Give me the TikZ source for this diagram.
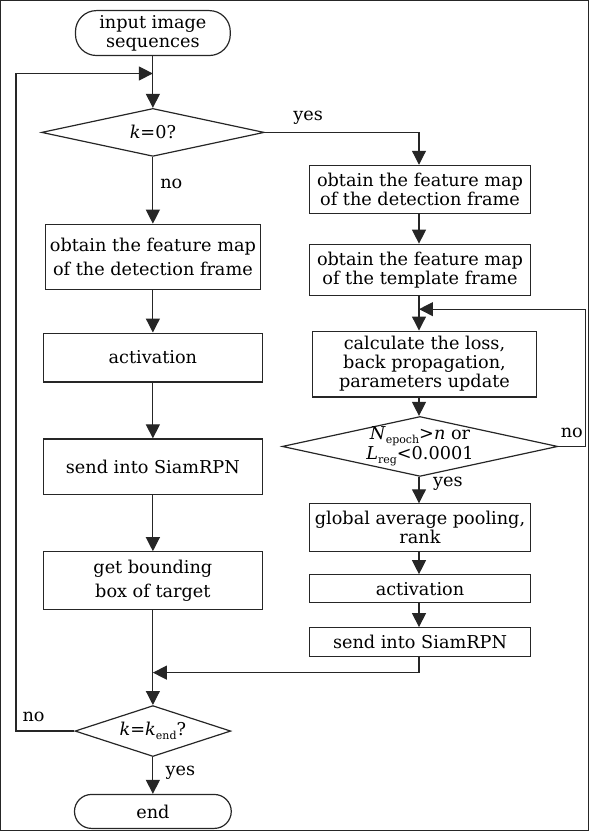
\documentclass[tikz,border=0pt]{standalone}
\usepackage{fontspec}
\setmainfont{DejaVu Serif}
\usetikzlibrary{arrows.meta,shapes.geometric}
\newcommand\lsub[1]{\raisebox{-0.4ex}{\fontsize{11}{11}\selectfont #1}}
\begin{document}
\begin{tikzpicture}[x=1pt,y=-1pt,
  font=\fontsize{17.7}{19}\selectfont,
  every path/.style={line width=1.2pt, draw=black!85},
  box/.style={draw, rectangle, align=center, inner sep=1pt, line width=1.2pt, draw=black!85},
  term/.style={draw, rectangle, rounded corners=17pt, align=center, inner sep=1pt, line width=1.2pt, draw=black!85},
  dia/.style={draw, diamond, inner sep=0pt, aspect=4.5, line width=1.2pt, draw=black!85},
  arr/.style={-{Triangle[length=14pt,width=14pt]}},
  lab/.style={inner sep=0pt}]
\useasboundingbox (0,0) rectangle (589,831);

% left column
\node[term, rounded corners=21pt, minimum width=155pt, minimum height=45pt] (start) at (152.5,32.5) {input image\\sequences};
\node[dia, minimum width=223pt, minimum height=48pt] (d1) at (152.5,132) {\textit{k}=0?};
\node[box, minimum width=215pt, minimum height=65pt, font=\fontsize{17.7}{24}\selectfont] (L1) at (152.5,256.5) {obtain the feature map\\of the detection frame};
\node[box, minimum width=219pt, minimum height=49pt] (L2) at (152.5,357.5) {activation};
\node[box, minimum width=219pt, minimum height=56pt] (L3) at (152.5,467) {send into SiamRPN};
\node[box, minimum width=219pt, minimum height=58pt, font=\fontsize{17.7}{24}\selectfont] (L4) at (152.5,581) {get bounding\\box of target};
\node[dia, minimum width=156pt, minimum height=51pt] (d3) at (152.5,731.5) {\textit{k}=\textit{k}\lsub{end}?};
\node[term, minimum width=157pt, minimum height=34pt] (end) at (152.5,812) {end};

% right column
\node[box, minimum width=221pt, minimum height=48pt] (R1) at (420,189) {obtain the feature map\\of the detection frame};
\node[box, minimum width=221pt, minimum height=51pt] (R2) at (420,269.5) {obtain the feature map\\of the template frame};
\node[box, minimum width=225pt, minimum height=66pt] (R3) at (424.5,364) {calculate the loss,\\back propagation,\\parameters update};
\node[dia, minimum width=276pt, minimum height=60pt,
  label={[align=center, inner sep=0pt, font=\fontsize{17.7}{19}\selectfont]center:{\textit{N}\lsub{epoch}>\textit{n} or\\\textit{L}\lsub{reg}<0.0001}}] (d2) at (420,446.5) {};
\node[box, minimum width=222pt, minimum height=48pt] (R4) at (420,528) {global average pooling,\\rank};
\node[box, minimum width=222pt, minimum height=28pt] (R5) at (420,589) {activation};
\node[box, minimum width=222pt, minimum height=29pt] (R6) at (420,642.5) {send into SiamRPN};

% junction coordinates
\coordinate (j1) at (152.5,73);
\coordinate (lt) at (15.5,73);
\coordinate (j2) at (152.5,673);
\coordinate (j3) at (419,309);
\coordinate (rt) at (586,309);

% connectors
\draw[arr] (start) -- (d1);
\draw[arr] (d1) -- (L1);
\draw[arr] (L1) -- (L2);
\draw[arr] (L2) -- (L3);
\draw[arr] (L3) -- (L4);
\draw[arr] (L4) -- (d3);
\draw[arr] (d3) -- (end);
\draw[arr] (d3.west) -| (lt) -- (j1);
\draw[arr] (d1.east) -| (R1.north -| j3);
\draw[arr] (R1.south -| j3) -- (R2.north -| j3);
\draw[arr] (R2.south -| j3) -- (R3.north -| j3);
\draw[arr] (R3.south -| j3) -- (d2.north -| j3);
\draw[arr] (d2.south -| j3) -- (R4.north -| j3);
\draw[arr] (R4.south -| j3) -- (R5.north -| j3);
\draw[arr] (R5.south -| j3) -- (R6.north -| j3);
\draw[arr] (R6.south -| j3) |- (j2);
\draw[arr] (d2.east) -| (rt) -- (j3);

% labels
\node[lab] (yes1) at (308,117) {yes};
\node[lab] (no1) at (171,184) {no};
\node[lab] (no2) at (572,433) {no};
\node[lab] (yes2) at (448,484) {yes};
\node[lab] (no3) at (33,717) {no};
\node[lab] (yes3) at (180,773) {yes};
\end{tikzpicture}
\end{document}
